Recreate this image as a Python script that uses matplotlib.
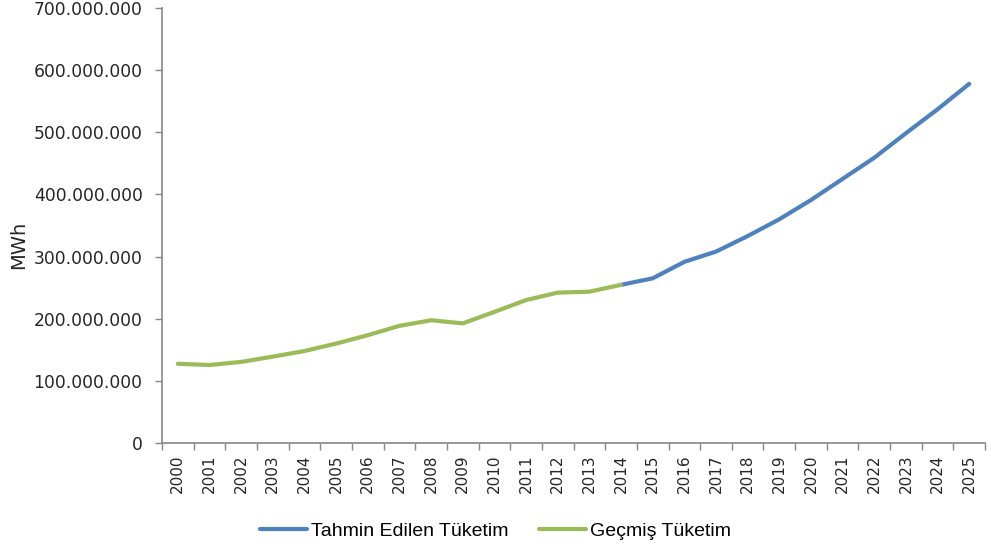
import matplotlib
matplotlib.use("Agg")
import matplotlib.pyplot as plt
from matplotlib.ticker import FuncFormatter

years = list(range(2000, 2026))

# gecmis tuketim (MWh), 2000-2014
gecmis_yillar = list(range(2000, 2015))
gecmis = [127.5e6, 125.5e6, 130.5e6, 139.0e6, 148.0e6, 160.0e6, 173.5e6, 188.5e6,
          197.5e6, 192.5e6, 211.0e6, 230.0e6, 242.0e6, 243.5e6, 254.5e6]

# tahmin edilen tuketim (MWh), 2014-2025
tahmin_yillar = list(range(2014, 2026))
tahmin = [254.5e6, 265.0e6, 291.5e6, 308.0e6, 333.0e6, 360.0e6, 391.0e6, 425.0e6,
          459.0e6, 498.5e6, 537.0e6, 578.0e6]

BLUE = "#4F81BD"
GREEN = "#9BBB59"
AXIS = "#868686"

fig = plt.figure(figsize=(9.91, 5.51), dpi=100)
ax = fig.add_axes([0.1635, 0.196, 0.8305, 0.7895])

xi_t = [years.index(y) for y in tahmin_yillar]
xi_g = [years.index(y) for y in gecmis_yillar]
ax.plot(xi_t, tahmin, color=BLUE, lw=3, solid_capstyle="round", label="Tahmin Edilen Tüketim")
ax.plot(xi_g, gecmis, color=GREEN, lw=3, solid_capstyle="round", label="Geçmiş Tüketim")

ax.set_xlim(-0.5, len(years) - 0.5)
ax.set_ylim(0, 700e6)
ax.set_yticks([i * 100e6 for i in range(8)])
ax.yaxis.set_major_formatter(FuncFormatter(lambda v, p: f"{int(v):,}".replace(",", ".")))

ax.set_xticks(range(len(years)))
ax.set_xticklabels([str(y) for y in years], rotation=90, fontsize=11)
ax.set_xticks([i - 0.5 for i in range(len(years) + 1)], minor=True)
ax.tick_params(axis="x", which="major", length=0, pad=8, labelcolor="#262626")
ax.tick_params(axis="x", which="minor", length=5, color=AXIS, width=1)
ax.tick_params(axis="y", length=5, color=AXIS, width=1, labelsize=12.3, pad=9,
               labelcolor="#262626")

for s in ("top", "right"):
    ax.spines[s].set_visible(False)
for s in ("left", "bottom"):
    ax.spines[s].set_color(AXIS)
    ax.spines[s].set_linewidth(1.2)

fig.text(0.019, 0.555, "MWh", rotation=90, fontsize=14, ha="center", va="center",
         color="#262626")

fig.legend(loc="center", bbox_to_anchor=(0.5, 0.036), ncol=2, frameon=False,
           prop={"family": "Liberation Sans", "size": 14}, handlelength=2.4,
           columnspacing=1.6, handletextpad=0.2)

fig.savefig("out.png", dpi=100)
